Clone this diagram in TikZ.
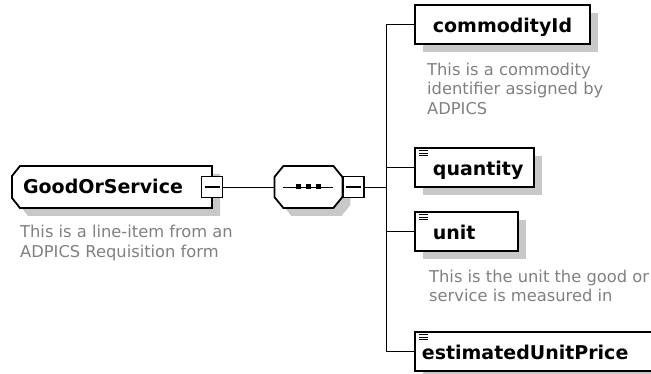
\documentclass[tikz,border=0pt]{standalone}
\usepackage{fontspec}
\setmainfont{DejaVu Sans}
\usetikzlibrary{positioning,calc,shadows}
\pgfdeclarelayer{background}
\pgfsetlayers{background,main}
\definecolor{shadowgray}{RGB}{200,200,200}
\definecolor{notegray}{RGB}{128,128,128}

\begin{document}
\begin{tikzpicture}[x=1pt,y=-1pt,line width=1.4pt,
  dshadow/.style={drop shadow={shadow xshift=8pt,shadow yshift=-8pt,fill=shadowgray,opacity=1}},
  elem/.style={draw,fill=white,line width=1.8pt,dshadow,anchor=north west,
    text width=#1,inner xsep=0pt,inner ysep=0pt,minimum height=39pt,align=left,
    text height=19pt,text depth=3pt,font=\bfseries\fontsize{19}{19}\selectfont},
  gel/.style={minimum width=200pt,minimum height=42pt,inner sep=0pt,outer sep=0pt,
    text height=17pt,text depth=3pt,font=\bfseries\fontsize{19}{19}\selectfont},
  seqbox/.style={minimum width=68pt,minimum height=42pt,inner sep=0pt,outer sep=0pt},
  outline/.style={draw,fill=white,line width=1.8pt,dshadow},
  minus/.style={draw,fill=white,line width=1.8pt,minimum size=21pt,inner sep=0pt,
    path picture={\draw[line width=1.5pt]
      ([xshift=-7.5pt]path picture bounding box.center) --
      ([xshift=7.5pt]path picture bounding box.center);}},
  note/.style={align=left,inner sep=0pt,text=notegray,font=\fontsize{16.3}{19.5}\selectfont},
  facet/.style={line width=0.8pt}]
\useasboundingbox (0,0) rectangle (651,374);

% root element and its sequence
\node[gel] (goS) at (112,187) {GoodOrService\hspace*{18pt}};
\node[minus] (goSm) at (goS.east) {};
\node[seqbox,right=51pt of goSm] (seq) {};
\node[minus,right=0pt of seq] (seqm) {};
\coordinate[right=21pt of seqm] (bus);
\begin{pgfonlayer}{background}
\draw[outline] ([xshift=8pt]goS.north west) -- (goS.north east) -- (goS.south east)
  -- ([xshift=8pt]goS.south west) -- ([yshift=10pt]goS.south west)
  -- ([yshift=-10pt]goS.north west) -- cycle;
\draw[outline] ([xshift=9pt]seq.north west) -- ([xshift=-9pt]seq.north east)
  -- ([yshift=-11pt]seq.north east) -- ([yshift=11pt]seq.south east)
  -- ([xshift=-9pt]seq.south east) -- ([xshift=9pt]seq.south west)
  -- ([yshift=11pt]seq.south west) -- ([yshift=-11pt]seq.north west) -- cycle;
\end{pgfonlayer}
\draw ([xshift=-25pt]seq.center) -- ([xshift=25pt]seq.center);
\foreach \dx in {-10pt,0pt,10pt}
  \fill ([xshift=\dx]seq.center) +(-2.5,-2.5) rectangle +(2.5,2.5);

% child elements
\node[elem=175pt] (cid) at (414,4) {\hspace*{18pt}commodityId};
\node[elem=119pt] (qty) at (414,147) {\hspace*{18pt}quantity};
\node[elem=103pt] (unit) at (414,211) {\hspace*{18pt}unit};
\node[elem=240pt] (eup) at (414,331) {\hspace*{7pt}estimatedUnitPrice};
\foreach \n in {qty,unit,eup}
  \foreach \dy in {3.5,6,8.5}
    \draw[facet] ($(\n.north west)+(4.5,\dy)$) -- ++(9,0);

% annotations
\coordinate (gsw) at (goS.south west);
\node[note,below right=17pt and 8pt of gsw] (goSn) {This is a line-item from an\\ADPICS Requisition form};
\node[note,below right=18pt and 13pt of cid.south west] (cidn) {This is a commodity\\identifier assigned by\\ADPICS};
\node[note,below right=18pt and 15pt of unit.south west] (unitn) {This is the unit the good or\\service is measured in};

% connectors
\draw (goSm.east) -- (seq.west);
\draw (seqm.east) -- (bus);
\draw (cid.west) -| (bus |- eup.west) -- (eup.west);
\foreach \n in {qty,unit}
  \draw (bus |- \n.west) -- (\n.west);
\end{tikzpicture}
\end{document}
